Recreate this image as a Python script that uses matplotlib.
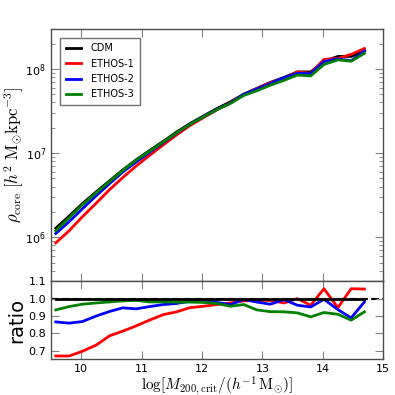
import matplotlib
matplotlib.use('Agg')
import matplotlib.pyplot as plt
import numpy as np

# halo mass bins, log10[M200crit / (h^-1 Msun)]
log_mass = [9.58, 9.80, 10.02, 10.25, 10.47, 10.69, 10.91, 11.13, 11.36, 11.58, 11.80, 12.02,
            12.25, 12.47, 12.69, 12.91, 13.13, 13.36, 13.58, 13.80, 14.02, 14.25, 14.47, 14.69]

# CDM core density [h^2 Msun kpc^-3]
rho_cdm = [1.28e6, 1.78e6, 2.51e6, 3.47e6, 4.68e6, 6.31e6, 8.32e6, 1.07e7, 1.38e7, 1.78e7, 2.24e7, 2.75e7,
           3.39e7, 4.07e7, 5.01e7, 5.89e7, 6.92e7, 7.94e7, 9.23e7, 9.23e7, 1.23e8, 1.41e8, 1.41e8, 1.66e8]

# ratio ETHOS / CDM
ratio_e1 = [0.670, 0.670, 0.697, 0.733, 0.786, 0.813, 0.843, 0.876, 0.908, 0.924, 0.948, 0.956,
            0.966, 0.975, 0.987, 0.990, 0.990, 0.975, 1.000, 0.962, 1.057, 0.948, 1.057, 1.055]
ratio_e2 = [0.866, 0.859, 0.868, 0.900, 0.926, 0.947, 0.941, 0.954, 0.966, 0.972, 0.985, 0.983,
            0.978, 0.965, 0.995, 0.980, 0.968, 0.994, 0.962, 0.952, 0.996, 0.937, 0.889, 0.981]
ratio_e3 = [0.935, 0.954, 0.968, 0.975, 0.981, 0.987, 0.990, 0.981, 0.981, 0.980, 0.980, 0.978,
            0.972, 0.956, 0.966, 0.935, 0.925, 0.924, 0.918, 0.895, 0.920, 0.910, 0.876, 0.924]

labels = ['CDM', 'ETHOS-1', 'ETHOS-2', 'ETHOS-3']
colors = ['k', 'r', 'b', 'g']

x = np.array(log_mass)
cdm = np.array(rho_cdm)
ratios = [np.ones(len(x)), np.array(ratio_e1), np.array(ratio_e2), np.array(ratio_e3)]

fig = plt.figure(figsize=(3.95, 3.95), dpi=100)
ax1 = fig.add_axes([0.129, 0.288, 0.841, 0.639])
ax2 = fig.add_axes([0.129, 0.090, 0.841, 0.198], sharex=ax1)

for r, lab, c in zip(ratios, labels, colors):
    ax1.plot(x, cdm * r, color=c, lw=2, label=lab)

ax2.axhline(1.0, color='k', ls='--', lw=1.5, zorder=1)
for r, lab, c in list(zip(ratios, labels, colors))[1:]:
    ax2.plot(x, r, color=c, lw=2, zorder=2)
ax2.plot(x, ratios[0], color='k', lw=2, zorder=3)

ax1.set_yscale('log')
ax1.set_ylim(3e5, 3e8)
ax1.set_xlim(9.5, 15)
ax2.set_ylim(0.65, 1.1)
ax2.set_yticks([0.7, 0.8, 0.9, 1.0, 1.1])
ax2.set_xticks([10, 11, 12, 13, 14, 15])

for ax in (ax1, ax2):
    for sp in ax.spines.values():
        sp.set_color('0.3')
        sp.set_linewidth(1)
    ax.tick_params(which='both', direction='in', top=True, right=True, color='0.5', labelsize=8)
    ax.tick_params(which='major', length=6)
    ax.tick_params(which='minor', length=3)
plt.setp(ax1.get_xticklabels(), visible=False)

leg = ax1.legend(loc='upper left', fontsize=7, frameon=True, fancybox=False,
                 handlelength=1.6, handletextpad=1.0, borderpad=0.6, labelspacing=0.55,
                 borderaxespad=0.9)
leg.get_frame().set_edgecolor('0.3')

ax1.set_ylabel(r'$\rho_{\rm core}\ [h^2\ {\rm M}_{\odot}{\rm kpc}^{-3}]$', fontsize=12,
               math_fontfamily='cm')
ax1.yaxis.set_label_coords(-0.075, 0.5)
ax2.set_ylabel('ratio', fontsize=14)
ax2.yaxis.set_label_coords(-0.075, 0.5)
ax2.set_xlabel(r'$\log[M_{200,{\rm crit}}/(h^{-1}\,{\rm M}_{\odot})]$', fontsize=11,
               math_fontfamily='cm', labelpad=0)

fig.savefig('out.png', dpi=100)
